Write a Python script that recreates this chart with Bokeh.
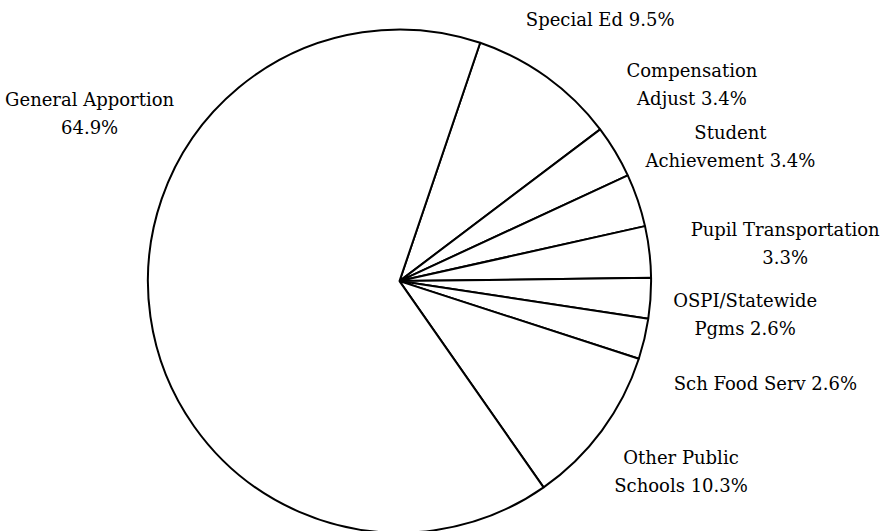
import math
from bokeh.plotting import figure
from bokeh.models import Range1d, ColumnDataSource
from bokeh.core.properties import value
from bokeh.embed import file_html
from bokeh.resources import INLINE

# ---- data ----
categories = ["Special Ed", "Compensation\nAdjust", "Student\nAchievement",
              "Pupil Transportation\n", "OSPI/Statewide\nPgms", "Sch Food Serv",
              "Other Public\nSchools", "General Apportion\n"]
percents = [9.5, 3.4, 3.4, 3.3, 2.6, 2.6, 10.3, 64.9]

# ---- layout / style ----
W, H = 893, 531
CX, CY = 399.0, H - 280.6
R = 251.6
START_DEG = 18.7  # clockwise from 12 o'clock
label_shift_deg = [1.7, -2.9, -3.4, 1.1, 1.5, 2.3, -2.5, 36.5]
label_dist = [1.31, 1.40, 1.42, 1.54, 1.38, 1.51, 1.35, 1.40]
LINE_SPACING = 28  # px between label lines

total = sum(percents)
starts, ends = [], []
tx, ty, toff, ttext = [], [], [], []
acc = START_DEG
for i, (c, v) in enumerate(zip(categories, percents)):
    a = acc
    b = acc + v / total * 360.0
    acc = b
    starts.append(math.radians(90.0 - b))
    ends.append(math.radians(90.0 - a))
    mid = (a + b) / 2.0 + label_shift_deg[i]
    d = label_dist[i] * R
    x = CX + d * math.sin(math.radians(mid))
    y = CY + d * math.cos(math.radians(mid))
    full = c + f"{v:.1f}%" if c.endswith("\n") else c + f" {v:.1f}%"
    lines = full.split("\n")
    n = len(lines)
    for k, line in enumerate(lines):
        tx.append(x)
        ty.append(y)
        toff.append((k - (n - 1) / 2.0) * LINE_SPACING)
        ttext.append(line)

src = ColumnDataSource(dict(start=starts, end=ends, x=[CX] * len(starts), y=[CY] * len(starts)))
lab = ColumnDataSource(dict(x=tx, y=ty, off=toff, text=ttext))

p = figure(width=W, height=H, output_backend="svg", toolbar_location=None,
           x_range=Range1d(0, W), y_range=Range1d(0, H), min_border=0,
           outline_line_color=None, background_fill_color="white",
           border_fill_color="white")
p.axis.visible = False
p.grid.visible = False

p.wedge(x="x", y="y", radius=R, start_angle="start", end_angle="end", source=src,
        fill_color="white", line_color="black", line_width=2)

p.text(x="x", y="y", text="text", y_offset="off", source=lab, text_align="center",
       text_baseline="middle", text_font=value("DejaVu Serif"), text_font_size="18px",
       text_color="black")

open("out.html", "w").write(file_html(p, INLINE))
